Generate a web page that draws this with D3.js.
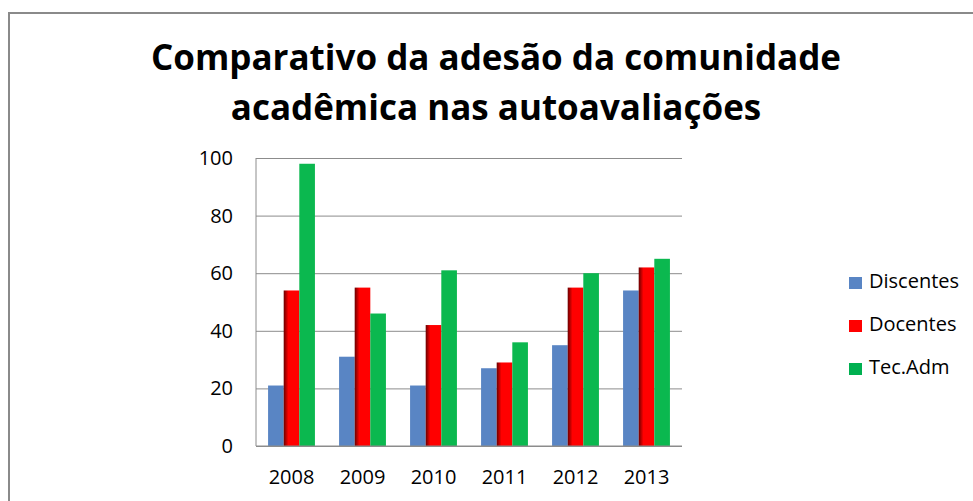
<!DOCTYPE html>
<html>
<head>
<meta charset="utf-8">
<script src="https://cdn.jsdelivr.net/npm/d3@7"></script>
<style>
  body { margin: 0; background: #fff; }
  svg { display: block; font-family: "Open Sans", sans-serif; }
</style>
</head>
<body>
<div id="chart"></div>
<script>
// chart data
const years = ['2008', '2009', '2010', '2011', '2012', '2013'];
const seriesNames = ['Discentes', 'Docentes', 'Tec.Adm'];
const discentes = [21, 31, 21, 27, 35, 54];
const docentes = [54, 55, 42, 29, 55, 62];
const tecAdm = [98, 46, 61, 36, 60, 65];
const yTicks = [0, 20, 40, 60, 80, 100];
const titleLines = ['Comparativo da adesão da comunidade', 'acadêmica nas autoavaliações'];

const seriesValues = [discentes, docentes, tecAdm];
const colors = ['#5985c4', 'url(#redGrad)', '#0bb84f'];
const legendColors = ['#5985c4', '#ff0000', '#00b050'];

const width = 973;
const height = 501;
const margin = { top: 158, right: 291, bottom: 55, left: 256 };
const chartWidth = width - margin.left - margin.right;
const chartHeight = height - margin.top - margin.bottom;
const font = '"Open Sans", sans-serif';

const svg = d3.select('#chart').append('svg')
  .attr('width', width)
  .attr('height', height);

// red bars have a dark left edge
const grad = svg.append('defs').append('linearGradient')
  .attr('id', 'redGrad')
  .attr('x1', '0').attr('x2', '1').attr('y1', '0').attr('y2', '0');
grad.append('stop').attr('offset', '0%').attr('stop-color', '#6a0000');
grad.append('stop').attr('offset', '30%').attr('stop-color', '#ff0000');
grad.append('stop').attr('offset', '100%').attr('stop-color', '#ff0000');

// outer frame
svg.append('rect')
  .attr('x', 9).attr('y', 13)
  .attr('width', 980).attr('height', 500)
  .attr('fill', '#fff')
  .attr('stroke', '#8a8a8a')
  .attr('stroke-width', 2);

// title
svg.append('g').selectAll('text')
  .data(titleLines)
  .join('text')
    .attr('x', 496)
    .attr('y', (d, i) => 70 + i * 50)
    .attr('text-anchor', 'middle')
    .attr('font-size', '35px')
    .attr('font-weight', 'bold')
    .attr('fill', '#000')
    .text(d => d);

const g = svg.append('g').attr('transform', `translate(${margin.left},${margin.top})`);

const x0 = d3.scaleBand().domain(years).range([0, chartWidth]).paddingInner(0.34).paddingOuter(0.17);
const x1 = d3.scaleBand().domain(d3.range(seriesNames.length)).range([0, x0.bandwidth()]);
const y = d3.scaleLinear().domain([0, 100]).range([chartHeight, 0]);

// gridlines
g.append('g')
  .call(d3.axisLeft(y).tickValues(yTicks).tickSize(-chartWidth).tickFormat(''))
  .call(a => a.select('.domain').remove())
  .selectAll('line')
    .attr('stroke', '#8c8c8c')
    .attr('stroke-width', 1);

// left axis line
g.append('line')
  .attr('x1', 0).attr('x2', 0)
  .attr('y1', 0).attr('y2', chartHeight)
  .attr('stroke', '#8c8c8c');

// y tick labels
g.append('g')
  .call(d3.axisLeft(y).tickValues(yTicks).tickSize(0).tickPadding(23))
  .call(a => a.select('.domain').remove())
  .selectAll('text')
    .attr('font-size', '20px')
    .attr('font-family', font)
    .attr('fill', '#000');

// bars
const groups = g.append('g').selectAll('g')
  .data(years)
  .join('g')
    .attr('transform', d => `translate(${x0(d)},0)`);

groups.selectAll('rect')
  .data((d, i) => seriesValues.map((vals, s) => ({ s, value: vals[i] })))
  .join('rect')
    .attr('x', d => x1(d.s))
    .attr('y', d => y(d.value))
    .attr('width', x1.bandwidth())
    .attr('height', d => chartHeight - y(d.value))
    .attr('fill', d => colors[d.s]);

// baseline on top of bars
g.append('line')
  .attr('x1', 0).attr('x2', chartWidth)
  .attr('y1', chartHeight).attr('y2', chartHeight)
  .attr('stroke', '#8c8c8c');

// x axis labels
g.append('g')
  .attr('transform', `translate(0,${chartHeight})`)
  .call(d3.axisBottom(x0).tickSize(0).tickPadding(24))
  .call(a => a.select('.domain').remove())
  .selectAll('text')
    .attr('font-size', '20px')
    .attr('font-family', font)
    .attr('fill', '#000');

// legend
const legend = svg.append('g').selectAll('g')
  .data(seriesNames)
  .join('g')
    .attr('transform', (d, i) => `translate(849,${288 + i * 43})`);

legend.append('rect')
  .attr('x', 0).attr('y', -11)
  .attr('width', 13).attr('height', 12)
  .attr('fill', (d, i) => legendColors[i]);

legend.append('text')
  .attr('x', 20)
  .attr('y', 0)
  .attr('font-size', '20px')
  .attr('fill', '#000')
  .text(d => d);
</script>
</body>
</html>
